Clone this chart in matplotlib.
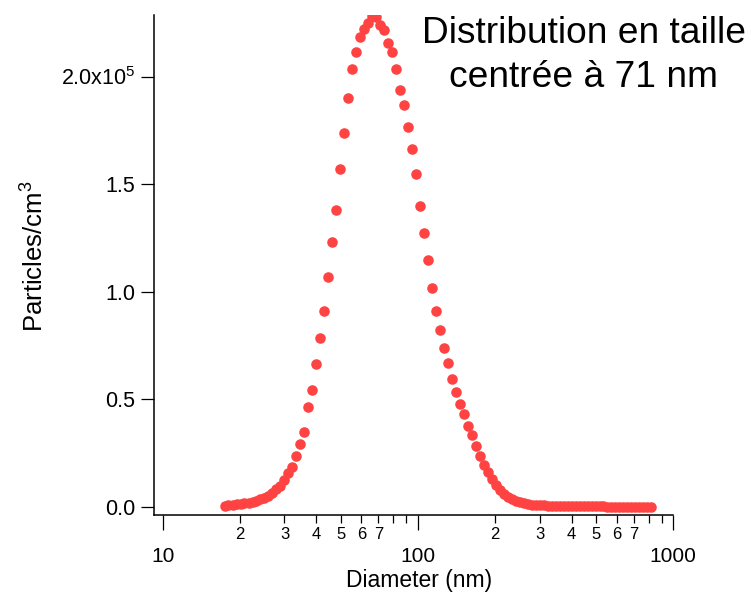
import numpy as np
import matplotlib
matplotlib.use("Agg")
import matplotlib.pyplot as plt

# =========================
# Data
# =========================
diameter_nm = [
    17.5, 18.1, 18.8, 19.5, 20.2, 20.9, 21.7, 22.5, 23.3, 24.1,
    25.0, 25.9, 26.9, 27.9, 28.9, 30.0, 31.1, 32.2, 33.4, 34.6,
    35.9, 37.2, 38.5, 40.0, 41.4, 42.9, 44.5, 46.1, 47.8, 49.6,
    51.4, 53.3, 55.2, 57.3, 59.4, 61.5, 63.8, 66.1, 68.5, 71.0,
    73.7, 76.4, 79.1, 82.0, 85.1, 88.2, 91.4, 94.7, 98.2, 101.8,
    105.5, 109.4, 113.4, 117.6, 121.9, 126.3, 131.0, 135.8, 140.7, 145.9,
    151.2, 156.8, 162.5, 168.5, 174.7, 181.1, 187.7, 194.6, 201.7, 209.1,
    216.7, 224.7, 232.9, 241.4, 250.3, 259.5, 269.0, 278.8, 289.0, 299.6,
    310.6, 322.0, 333.8, 346.0, 358.7, 371.8, 385.4, 399.5, 414.2, 429.4,
    445.1, 461.4, 478.3, 495.8, 514.0, 532.8, 552.3, 572.5, 593.5, 615.3,
    637.8, 661.2, 685.4, 710.5, 736.5, 763.5, 791.5, 820.5,
]

# particles/cm3, in thousands
conc_k = [
    0.5, 0.8, 1.0, 1.2, 1.4, 1.6, 1.9, 2.3, 2.8, 3.4,
    4.2, 5.2, 6.5, 8.0, 9.8, 12.3, 15.5, 18.6, 23.6, 29.0,
    34.7, 46.4, 54.1, 66.4, 78.4, 90.8, 106.8, 123.1, 138.1, 156.8,
    173.7, 190.2, 203.5, 211.5, 218.3, 222.1, 224.8, 228.3, 227.9, 223.9,
    221.7, 215.5, 211.5, 203.4, 193.5, 186.6, 176.6, 166.2, 154.6, 139.6,
    127.4, 114.5, 101.6, 91.0, 82.3, 73.6, 66.8, 59.6, 53.4, 47.8,
    43.0, 37.5, 33.3, 28.2, 23.6, 19.5, 16.3, 13.0, 10.0, 7.6,
    5.8, 4.4, 3.4, 2.6, 2.0, 1.6, 1.3, 1.0, 0.8, 0.7,
    0.6, 0.5, 0.4, 0.35, 0.3, 0.26, 0.23, 0.2, 0.18, 0.16,
    0.14, 0.13, 0.12, 0.11, 0.1, 0.1, 0.09, 0.09, 0.08, 0.08,
    0.07, 0.07, 0.06, 0.06, 0.06, 0.05, 0.05, 0.05,
]

y_ticks = [0, 0.5e5, 1.0e5, 1.5e5, 2.0e5]
y_tick_labels = ["0.0", "0.5", "1.0", "1.5", "2.0x10$^5$"]
x_major = [10, 100, 1000]
x_major_labels = ["10", "100", "1000"]
x_minor_labels = ["2", "3", "4", "5", "6", "7", "", ""]

annotation = ["Distribution en taille", "centrée à 71 nm"]

# =========================
# Style
# =========================
plt.rcParams["font.family"] = ["Liberation Sans", "DejaVu Sans"]
plt.rcParams["mathtext.default"] = "regular"

W, H = 751, 595
fig = plt.figure(figsize=(W / 100, H / 100), dpi=100)
ax = fig.add_axes([154 / W, 1 - 515 / H, (673.3 - 154) / W, (515 - 15) / H])

x = np.array(diameter_nm)
y = np.array(conc_k) * 1000

ax.plot(x, y, "o", color="#ff4343", markersize=7.6, markeredgewidth=0)

ax.set_xscale("log")
ax.set_xlim(9.25, 1000)
ax.set_ylim(-3.86e3, 228.6e3)

for s in ["top", "right"]:
    ax.spines[s].set_visible(False)
for s in ["left", "bottom"]:
    ax.spines[s].set_linewidth(1.1)

# x ticks
ax.set_xticks(x_major)
ax.set_xticklabels(x_major_labels, fontsize=15)
minor_pos = [m * d for d in (10, 100) for m in range(2, 10)]
ax.set_xticks(minor_pos, minor=True)
ax.set_xticklabels(x_minor_labels * 2, minor=True, fontsize=12)
ax.tick_params(axis="x", which="major", direction="out", length=10.8, width=0.9, pad=12)
ax.tick_params(axis="x", which="minor", direction="out", length=5.8, width=0.9, pad=3)

# y ticks
ax.set_yticks(y_ticks)
ax.set_yticklabels(y_tick_labels, fontsize=15.5)
ax.tick_params(axis="y", which="major", direction="out", length=9.4, width=0.9, pad=4)
ax.yaxis.set_minor_locator(matplotlib.ticker.NullLocator())

fig.text(35 / W, 1 - 256 / H, "Particles/cm$^3$", rotation=90,
         ha="center", va="center", fontsize=18.5)
fig.text(419 / W, 1 - 580 / H, "Diameter (nm)", ha="center", va="center", fontsize=16.5)

fig.text(583.5 / W, 1 - 43 / H, annotation[0], ha="center", va="baseline", fontsize=26.7)
fig.text(583.5 / W, 1 - 87 / H, annotation[1], ha="center", va="baseline", fontsize=26.7)

fig.savefig("out.png", dpi=100)
